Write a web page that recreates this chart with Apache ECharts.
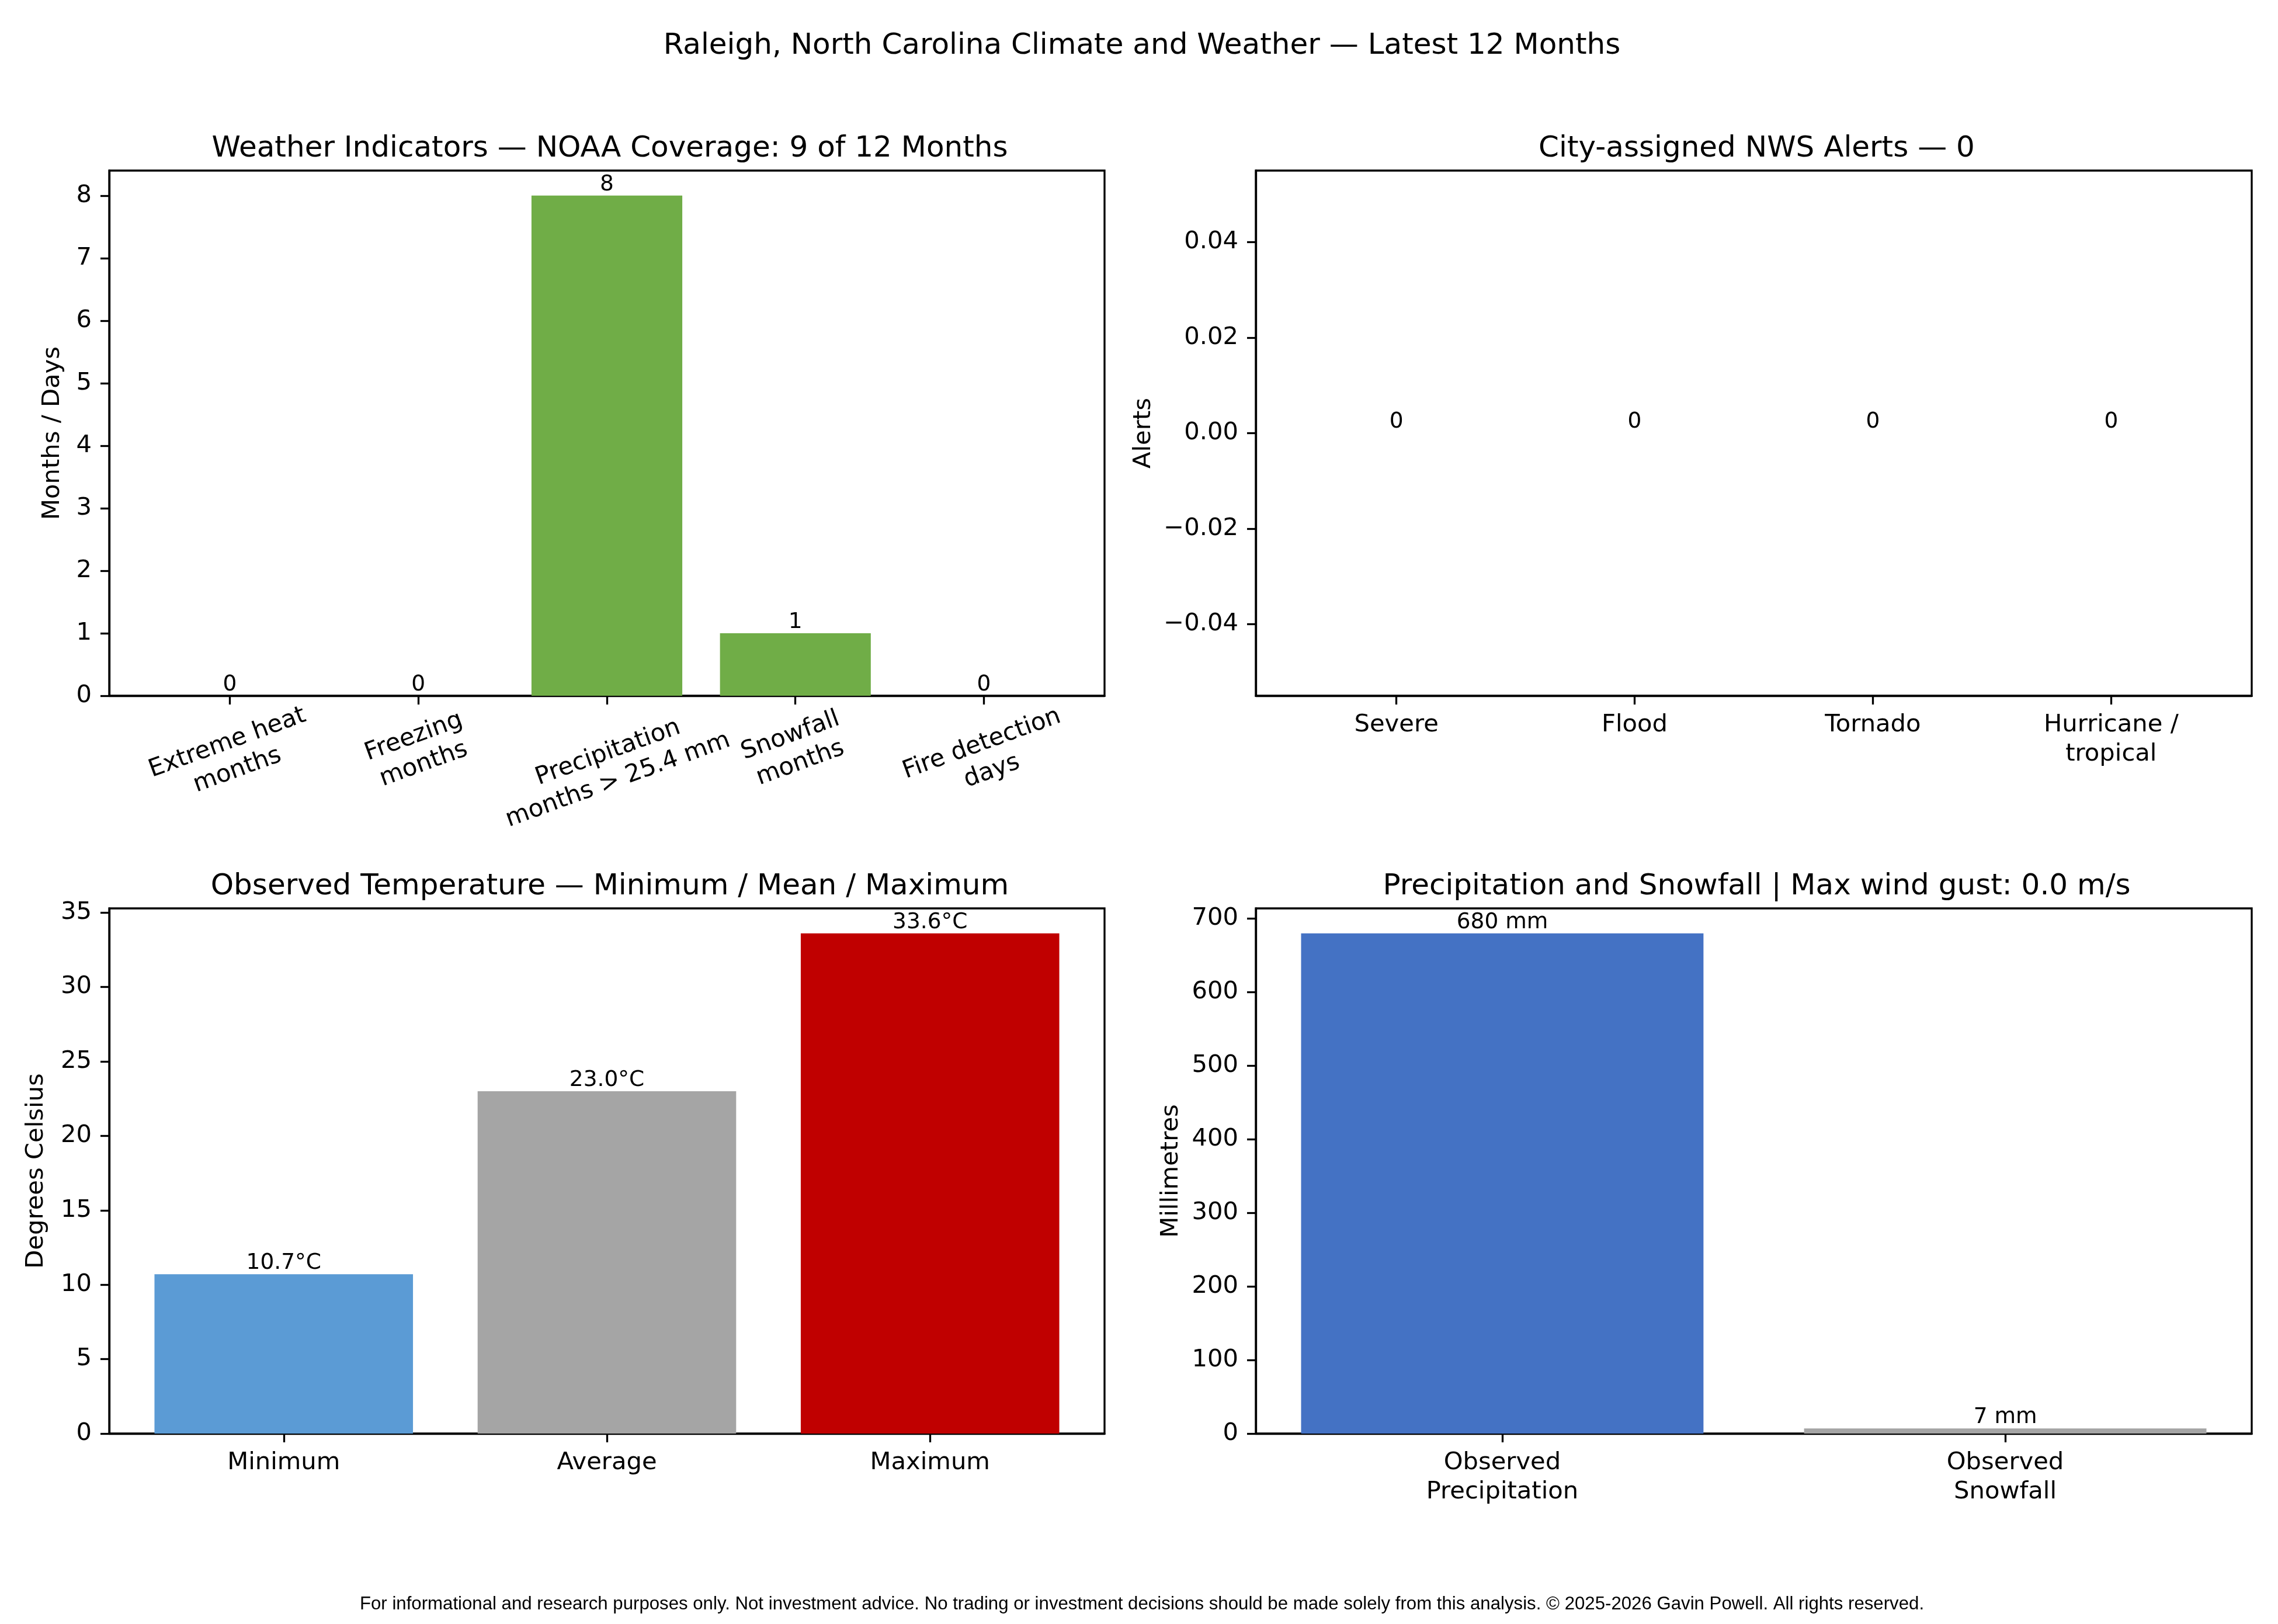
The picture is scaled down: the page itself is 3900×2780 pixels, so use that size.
<!DOCTYPE html>
<html>
<head>
<meta charset="utf-8">
<title>Raleigh, North Carolina Climate and Weather</title>
<script src="https://cdn.jsdelivr.net/npm/echarts@6/dist/echarts.min.js"></script>
<style>
html, body { margin: 0; padding: 0; background: #fff; }
#chart { width: 3900px; height: 2780px; }
</style>
</head>
<body>
<div id="chart"></div>
<script>
// ---- data ----
var indicatorLabels = ['Extreme heat\nmonths', 'Freezing\nmonths', 'Precipitation\nmonths > 25.4 mm', 'Snowfall\nmonths', 'Fire detection\ndays'];
var indicatorValues = [0, 0, 8, 1, 0];
var indicatorTicks = [0, 1, 2, 3, 4, 5, 6, 7, 8];

var alertLabels = ['Severe', 'Flood', 'Tornado', 'Hurricane /\ntropical'];
var alertValues = [0, 0, 0, 0];
var alertTicks = [-0.04, -0.02, 0, 0.02, 0.04];

var tempLabels = ['Minimum', 'Average', 'Maximum'];
var tempValues = [10.7, 23.0, 33.6];
var tempTicks = [0, 5, 10, 15, 20, 25, 30, 35];

var precipLabels = ['Observed\nPrecipitation', 'Observed\nSnowfall'];
var precipValues = [680, 7];
var precipTicks = [0, 100, 200, 300, 400, 500, 600, 700];

var FONT = 'DejaVu Sans';
var chart = echarts.init(document.getElementById('chart'), null, {renderer: 'canvas'});

var grids = [], xAxes = [], yAxes = [], series = [], titles = [];

// one matplotlib-like bar panel
function addPanel(p) {
    var k = grids.length;
    var n = p.labels.length;
    var span = (n - 1) + 0.8;
    var xMin = -0.4 - 0.05 * span, xMax = n - 1 + 0.4 + 0.05 * span;
    var idx = p.labels.map(function (l, i) { return i; });
    var barW = 0.8 * p.box.w / (xMax - xMin);

    grids.push({
        left: p.box.x, top: p.box.y, width: p.box.w, height: p.box.h,
        show: true, borderColor: '#000', borderWidth: 3.3, backgroundColor: 'transparent'
    });
    var xLabel = {
        customValues: idx,
        color: '#000', fontFamily: FONT, fontSize: 41.7, lineHeight: 50,
        margin: 25,
        formatter: function (v) { return p.labels[Math.round(v)]; }
    };
    if (p.xLabel) Object.assign(xLabel, p.xLabel);
    xAxes.push({
        type: 'value', gridIndex: k, min: xMin, max: xMax,
        axisLine: {show: true, onZero: false, lineStyle: {color: '#000', width: 3.3}},
        axisTick: {show: true, customValues: idx, length: 15, lineStyle: {color: '#000', width: 3.3}},
        axisLabel: xLabel,
        splitLine: {show: false}
    });
    yAxes.push({
        type: 'value', gridIndex: k, min: p.yMin, max: p.yMax,
        name: p.yName, nameLocation: 'middle', nameGap: p.nameGap,
        nameTextStyle: {color: '#000', fontFamily: FONT, fontSize: 41.7},
        axisLine: {show: true, onZero: false, lineStyle: {color: '#000', width: 3.3}},
        axisTick: {show: true, customValues: p.yTicks, length: 15, lineStyle: {color: '#000', width: 3.3}},
        axisLabel: {
            customValues: p.yTicks, color: '#000', fontFamily: FONT, fontSize: 41.7, margin: 30,
            formatter: p.yFmt || function (v) { return String(v); }
        },
        splitLine: {show: false}
    });
    series.push({
        type: 'bar', xAxisIndex: k, yAxisIndex: k, barWidth: barW,
        data: p.values.map(function (v, i) {
            return {value: [i, v], itemStyle: {color: p.colors[i]}};
        }),
        label: {
            show: true, position: 'top', distance: 0,
            color: '#000', fontFamily: FONT, fontSize: 37.5,
            formatter: function (prm) { return p.barFmt(prm.value[1]); }
        }
    });
    titles.push({
        text: p.title, left: p.box.x + p.box.w / 2, top: p.box.y - 67, textAlign: 'center',
        textStyle: {color: '#000', fontFamily: FONT, fontSize: 50, fontWeight: 'normal'}
    });
}

// extra room under each rotated label so the tilted boxes sit like the original
var tiltPad = [26, 4, 62, 0, 30];
var tiltRich = {};
tiltPad.forEach(function (h, i) { tiltRich['sp' + i] = {height: h, fontSize: 1, lineHeight: h}; });

addPanel({
    box: {x: 187, y: 292, w: 1704, h: 899},
    title: 'Weather Indicators \u2014 NOAA Coverage: 9 of 12 Months',
    labels: indicatorLabels, values: indicatorValues,
    colors: ['#70AD47', '#70AD47', '#70AD47', '#70AD47', '#70AD47'],
    yMin: 0, yMax: 8.4, yTicks: indicatorTicks,
    yName: 'Months / Days', nameGap: 76,
    barFmt: function (v) { return String(v); },
    xLabel: {
        rotate: 20, align: 'center', verticalAlign: 'middle', margin: 92,
        rich: tiltRich,
        formatter: function (v) {
            var i = Math.round(v);
            return (tiltPad[i] > 0 ? '{sp' + i + '| }\n' : '') + indicatorLabels[i];
        }
    }
});

addPanel({
    box: {x: 2150, y: 292, w: 1705, h: 899},
    title: 'City-assigned NWS Alerts \u2014 0',
    labels: alertLabels, values: alertValues,
    colors: ['#C00000', '#4472C4', '#7F7F7F', '#ED7D31'],
    yMin: -0.055, yMax: 0.055, yTicks: alertTicks,
    yName: 'Alerts', nameGap: 171,
    yFmt: function (v) { return (v < -1e-9 ? '\u2212' : '') + Math.abs(v).toFixed(2); },
    barFmt: function (v) { return String(v); }
});

addPanel({
    box: {x: 187, y: 1555, w: 1704, h: 899},
    title: 'Observed Temperature \u2014 Minimum / Mean / Maximum',
    labels: tempLabels, values: tempValues,
    colors: ['#5B9BD5', '#A5A5A5', '#C00000'],
    yMin: 0, yMax: 35.28, yTicks: tempTicks,
    yName: 'Degrees Celsius', nameGap: 104,
    barFmt: function (v) { return v.toFixed(1) + '\u00B0C'; }
});

addPanel({
    box: {x: 2150, y: 1555, w: 1705, h: 899},
    title: 'Precipitation and Snowfall | Max wind gust: 0.0 m/s',
    labels: precipLabels, values: precipValues,
    colors: ['#4472C4', '#A5A5A5'],
    yMin: 0, yMax: 714, yTicks: precipTicks,
    yName: 'Millimetres', nameGap: 124,
    barFmt: function (v) { return Math.round(v) + ' mm'; }
});

titles.push({
    text: 'Raleigh, North Carolina Climate and Weather \u2014 Latest 12 Months',
    left: 1950, top: 49, textAlign: 'center',
    textStyle: {color: '#000', fontFamily: FONT, fontSize: 50, fontWeight: 'normal'}
});
titles.push({
    text: 'For informational and research purposes only. Not investment advice. No trading or investment decisions should be made solely from this analysis. \u00A9 2025-2026 Gavin Powell. All rights reserved.',
    left: 1950, top: 2726, textAlign: 'center',
    textStyle: {color: '#000', fontFamily: 'Liberation Sans', fontSize: 31.2, fontWeight: 'normal'}
});

chart.setOption({
    animation: false,
    backgroundColor: '#fff',
    title: titles,
    grid: grids,
    xAxis: xAxes,
    yAxis: yAxes,
    series: series
});
</script>
</body>
</html>
